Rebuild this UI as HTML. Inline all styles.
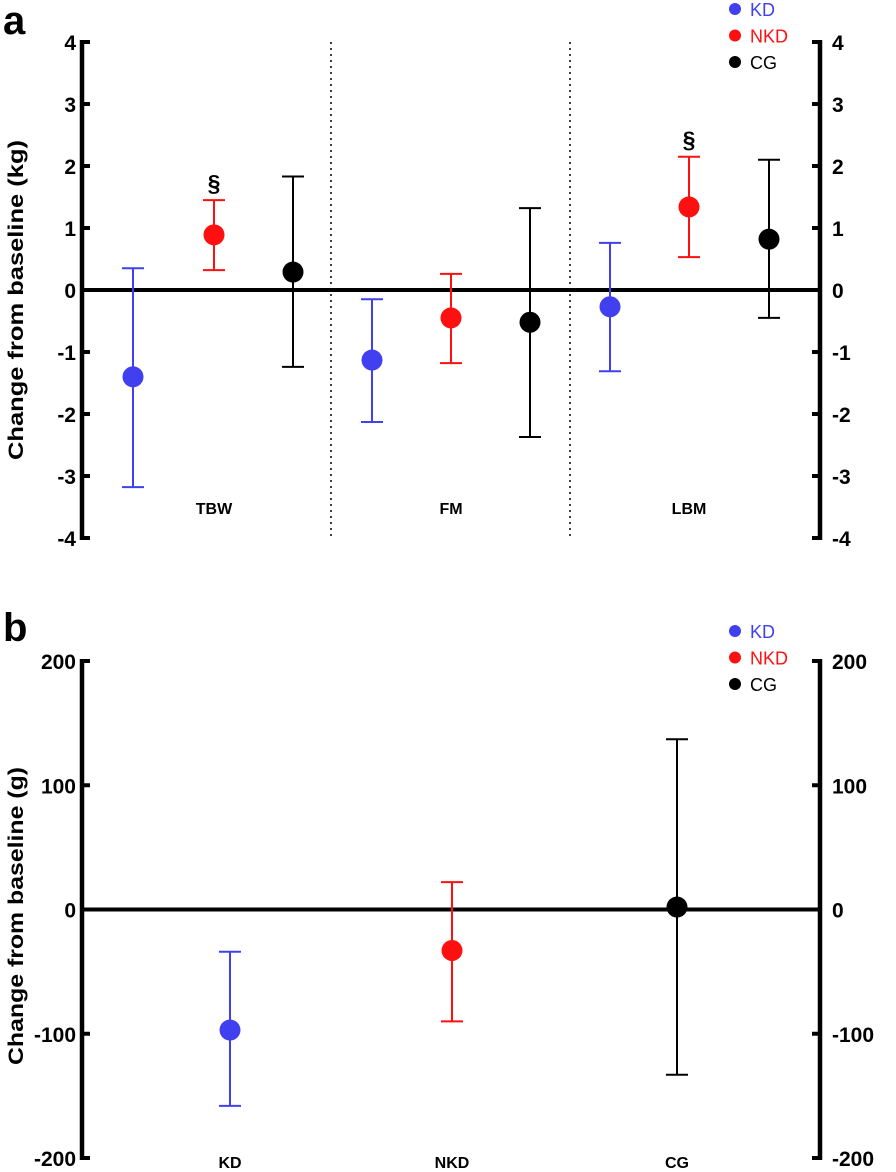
<!DOCTYPE html>
<html><head><meta charset="utf-8"><style>
body{margin:0;background:#fff;}
svg{display:block;font-family:"Liberation Sans",sans-serif;}
</style></head><body>
<svg id="chart" width="896" height="1172" viewBox="0 0 896 1172" xmlns="http://www.w3.org/2000/svg"></svg>
<script>
// Panel a data
const aCategories = ["TBW","FM","LBM"];
const groups = ["KD","NKD","CG"];
const aMeans = [[-1.40,0.89,0.29],[-1.13,-0.45,-0.52],[-0.27,1.34,0.82]];
const aUpper = [[0.35,1.45,1.83],[-0.15,0.26,1.32],[0.76,2.15,2.10]];
const aLower = [[-3.18,0.32,-1.24],[-2.13,-1.18,-2.37],[-1.31,0.53,-0.45]];
const aSig = [[false,true,false],[false,false,false],[false,true,false]];
const aTicks = [-4,-3,-2,-1,0,1,2,3,4];
// Panel b data
const bCategories = ["KD","NKD","CG"];
const bMeans = [-97,-33,2];
const bUpper = [-34,22,137];
const bLower = [-158,-90,-133];
const bTicks = [-200,-100,0,100,200];

const colors = {KD:"#4040f0",NKD:"#ff1010",CG:"#000"};
const NS="http://www.w3.org/2000/svg";
const svg=document.getElementById('chart');
function el(tag,attrs,parent){const e=document.createElementNS(NS,tag);for(const k in attrs)e.setAttribute(k,attrs[k]);(parent||svg).appendChild(e);return e;}
function txt(s,attrs,parent){const t=el('text',attrs,parent);t.textContent=s;return t;}

function panel(cfg){
  const g=el('g',{});
  
  
  const yS=v=>cfg.y0+(cfg.max-v)/(cfg.max-cfg.min)*(cfg.y1-cfg.y0);
  const L=82,R=820;
  const lt=txt(cfg.letter,{x:3,y:cfg.letterY,'font-size':40,'font-weight':'bold'},g);
  
  
  const yt=txt(cfg.title,{x:0,y:0,'font-size':21,'font-weight':'bold','text-anchor':'middle',textLength:cfg.titleLen,lengthAdjust:'spacingAndGlyphs',transform:`translate(23,${cfg.titleY}) rotate(-90)`},g);
  
  
  const la=el('line',{x1:L,x2:L,y1:cfg.y0-2,y2:cfg.y1+2,stroke:'#000','stroke-width':4.5},g);
  
  
  const ra=el('line',{x1:R,x2:R,y1:cfg.y0-2,y2:cfg.y1+2,stroke:'#000','stroke-width':4.5},g);
  
  
  cfg.ticks.forEach(t=>{
    const y=yS(t);
    el('line',{x1:L,x2:L+8,y1:y,y2:y,stroke:'#000','stroke-width':4},g);
    el('line',{x1:R-8,x2:R,y1:y,y2:y,stroke:'#000','stroke-width':4},g);
    const a=txt(String(t),{x:L-6,y:y+8,'font-size':21,'font-weight':'bold','text-anchor':'end'},g);
    
    
    const b=txt(String(t),{x:R+12,y:y+8,'font-size':21,'font-weight':'bold'},g);
    
    
  });
  const z=el('line',{x1:L,x2:R,y1:yS(0),y2:yS(0),stroke:'#000','stroke-width':4},g);
  
  
  groups.forEach((gr,i)=>{
    const ly=cfg.legY+i*26.5;
    const d=el('circle',{cx:735,cy:ly,r:6,fill:colors[gr]},g);
    
    
    const t=txt(gr,{x:750,y:ly+7,'font-size':18,fill:colors[gr]},g);
    
    
  });
  cfg.points.forEach(p=>{
    const c=colors[p.g];
    const pg=el('g',{},g);
    
    
    const yu=yS(p.u),yl=yS(p.l);
    el('line',{x1:p.x,x2:p.x,y1:yu,y2:yl,stroke:c,'stroke-width':2},pg);
    el('line',{x1:p.x-11,x2:p.x+11,y1:yu,y2:yu,stroke:c,'stroke-width':2},pg);
    el('line',{x1:p.x-11,x2:p.x+11,y1:yl,y2:yl,stroke:c,'stroke-width':2},pg);
    el('circle',{cx:p.x,cy:yS(p.m),r:10.5,fill:c},pg);
    if(p.sig){
      const s=txt('§',{x:p.x,y:yu-9,'font-size':23,'font-weight':'bold','text-anchor':'middle'},pg);
      
      
    }
  });
  return yS;
}

const aX=[[133,214,293],[372,451,530],[610,689,769]];
const aPoints=[];
aCategories.forEach((c,ci)=>groups.forEach((gr,gi)=>aPoints.push({x:aX[ci][gi],g:gr,m:aMeans[ci][gi],u:aUpper[ci][gi],l:aLower[ci][gi],sig:aSig[ci][gi],label:c.toLowerCase()+'-'+gr.toLowerCase()})));
panel({name:'panel-a',letter:'a',letterY:34,title:'Change from baseline (kg)',titleY:300,titleLen:320,y0:42,y1:538,min:-4,max:4,ticks:aTicks,legY:9,points:aPoints});
[331,570].forEach(x=>{
  const d=el('line',{x1:x,x2:x,y1:42,y2:538,stroke:'#000','stroke-width':1.5,'stroke-dasharray':'2 4'});
  
  
});
aCategories.forEach((c,i)=>{
  const t=txt(c,{x:aX[i][1],y:514,'font-size':16,'font-weight':'bold','text-anchor':'middle'});
  
  
});

const bX=[230,452,677];
const bPoints=bCategories.map((c,i)=>({x:bX[i],g:groups[i],m:bMeans[i],u:bUpper[i],l:bLower[i],sig:false,label:'b-'+c.toLowerCase()}));
panel({name:'panel-b',letter:'b',letterY:641,title:'Change from baseline (g)',titleY:916,titleLen:298,y0:661,y1:1158,min:-200,max:200,ticks:bTicks,legY:631,points:bPoints});
bCategories.forEach((c,i)=>{
  const t=txt(c,{x:bX[i],y:1168,'font-size':16,'font-weight':'bold','text-anchor':'middle'});
  
  
});
</script>
</body></html>
